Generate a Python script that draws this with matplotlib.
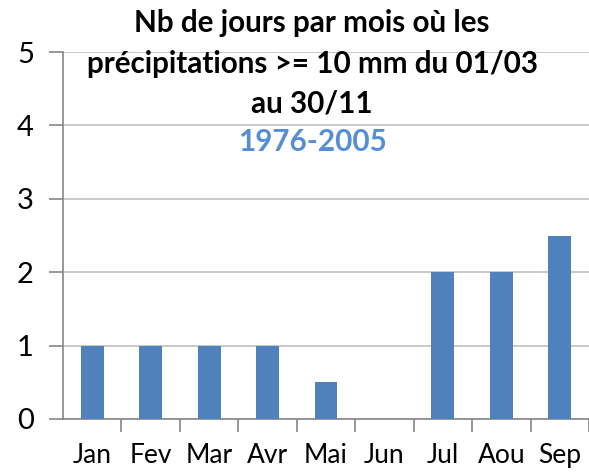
import matplotlib.pyplot as plt

months = ["Jan", "Fev", "Mar", "Avr", "Mai", "Jun", "Jul", "Aou", "Sep"]
jours = [1, 1, 1, 1, 0.5, 0, 2, 2, 2.5]

title_lines = ["Nb de jours par mois où les",
               "précipitations >= 10 mm du 01/03",
               "au 30/11"]
periode = "1976-2005"

plt.rcParams['font.family'] = ['Lato', 'DejaVu Sans']

fig = plt.figure(figsize=(5.89, 4.72), dpi=100)
ax = fig.add_axes([0.107, 0.1123, 0.893, 0.7775])

x = range(len(months))
ax.bar(x, jours, width=0.39, color="#4F81BD", zorder=3)

ax.set_xlim(-0.5, len(months) - 0.5)
ax.set_ylim(0, 5)
ax.set_yticks(range(0, 6))
ax.tick_params(axis='y', labelsize=21, length=10, color="#868686", width=1.2, pad=11)

# category labels centred, ticks on boundaries
ax.set_xticks(list(x))
ax.set_xticklabels(months, fontsize=19)
ax.set_xticks([i + 0.5 for i in range(len(months))], minor=True)
ax.tick_params(axis='x', which='major', length=0, pad=17)
ax.tick_params(axis='x', which='minor', length=9, color="#868686", width=1.2)

ax.yaxis.grid(True, color="#BFBFBF", linewidth=1.2, zorder=0)
for s in ["top", "right"]:
    ax.spines[s].set_visible(False)
for s in ["left", "bottom"]:
    ax.spines[s].set_color("#868686")
    ax.spines[s].set_linewidth(1.2)

ys = [0.951, 0.864, 0.78]
for t, y in zip(title_lines, ys):
    fig.text(0.53, y, t, ha="center", va="center", fontsize=21.3, fontweight="bold")
fig.text(0.53, 0.70, periode, ha="center", va="center", fontsize=21.3,
         fontweight="bold", color="#558ED5")

fig.savefig("out.png", dpi=100)
